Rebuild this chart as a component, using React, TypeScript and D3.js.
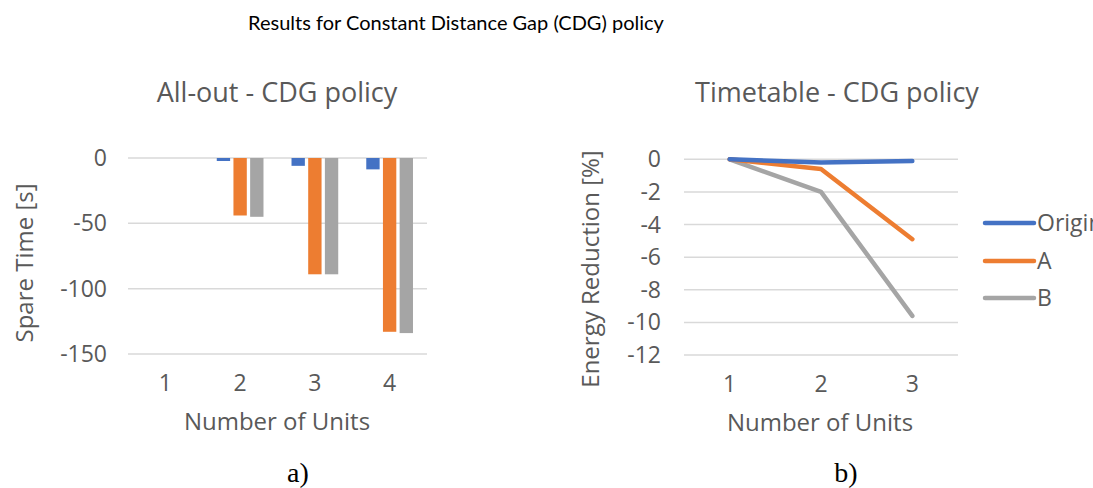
import React, { useEffect, useRef } from "react";
import * as d3 from "d3";

const W = 1093;
const H = 488;

const seriesNames = ["Original", "A", "B"];
const colors = ["#4472C4", "#ED7D31", "#A5A5A5"];

// left chart: All-out
const allOutUnits = ["1", "2", "3", "4"];
const allOutOriginal = [0, -2.3, -6, -8.7];
const allOutA = [0, -44, -89, -133];
const allOutB = [0, -45, -89, -134];
const allOutTicks = [0, -50, -100, -150];

// right chart: Timetable
const ttUnits = ["1", "2", "3"];
const ttOriginal = [0, -0.2, -0.1];
const ttA = [0, -0.6, -4.9];
const ttB = [0, -2.0, -9.6];
const ttTicks = [0, -2, -4, -6, -8, -10, -12];

const TXT = "#595959";
const GRID = "#D9D9D9";
const FONT = "'Open Sans', sans-serif";
const TICK_SIZE = 23;
const AXIS_SIZE = 24;
const TITLE_SIZE = 27;

export default function App() {
  const ref = useRef<SVGSVGElement>(null);

  useEffect(() => {
    const svg = d3.select(ref.current);
    svg.selectAll("*").remove();

    // overall title
    svg
      .append("text")
      .attr("x", 456)
      .attr("y", 30)
      .attr("text-anchor", "middle")
      .attr("font-family", "Lato, sans-serif")
      .attr("font-size", 20)
      .attr("fill", "#000")
      .text("Results for Constant Distance Gap (CDG) policy");

    // ---------- left: bar chart ----------
    const L = svg.append("g");
    const x0 = d3.scaleBand().domain(allOutUnits).range([128, 427]);
    const groupW = x0.bandwidth() * 0.625;
    const x1 = d3
      .scaleBand()
      .domain(seriesNames)
      .range([0, groupW])
      .paddingInner(0.2);
    const yL = d3.scaleLinear().domain([-150, 0]).range([354, 158]);

    L.selectAll("line.grid")
      .data(allOutTicks)
      .enter()
      .append("line")
      .attr("x1", 128)
      .attr("x2", 427)
      .attr("y1", (d) => yL(d))
      .attr("y2", (d) => yL(d))
      .attr("stroke", GRID)
      .attr("stroke-width", 1.5);

    L.selectAll("text.ytick")
      .data(allOutTicks)
      .enter()
      .append("text")
      .attr("x", 107)
      .attr("y", (d) => yL(d))
      .attr("dy", "0.35em")
      .attr("text-anchor", "end")
      .attr("font-family", FONT)
      .attr("font-size", TICK_SIZE)
      .attr("fill", TXT)
      .text((d) => d);

    const barSeries = [allOutOriginal, allOutA, allOutB];
    barSeries.forEach((vals, si) => {
      L.selectAll(`rect.s${si}`)
        .data(vals)
        .enter()
        .append("rect")
        .attr("x", (d, i) => x0(allOutUnits[i])! + (x0.bandwidth() - groupW) / 2 + x1(seriesNames[si])!)
        .attr("y", (d) => yL(Math.max(0, d)))
        .attr("width", x1.bandwidth())
        .attr("height", (d) => Math.abs(yL(d) - yL(0)))
        .attr("fill", colors[si]);
    });

    L.selectAll("text.xtick")
      .data(allOutUnits)
      .enter()
      .append("text")
      .attr("x", (d) => x0(d)! + x0.bandwidth() / 2)
      .attr("y", 391)
      .attr("text-anchor", "middle")
      .attr("font-family", FONT)
      .attr("font-size", TICK_SIZE)
      .attr("fill", TXT)
      .text((d) => d);

    L.append("text")
      .attr("x", 277)
      .attr("y", 102)
      .attr("text-anchor", "middle")
      .attr("font-family", FONT)
      .attr("font-size", TITLE_SIZE)
      .attr("fill", TXT)
      .text("All-out - CDG policy");

    L.append("text")
      .attr("x", 277)
      .attr("y", 430)
      .attr("text-anchor", "middle")
      .attr("font-family", FONT)
      .attr("font-size", AXIS_SIZE)
      .attr("fill", TXT)
      .text("Number of Units");

    L.append("text")
      .attr("transform", "translate(25,263) rotate(-90)")
      .attr("dy", "0.35em")
      .attr("text-anchor", "middle")
      .attr("font-family", FONT)
      .attr("font-size", AXIS_SIZE)
      .attr("fill", TXT)
      .text("Spare Time [s]");

    // ---------- right: line chart ----------
    const R = svg.append("g");
    const xR = d3.scaleBand().domain(ttUnits).range([684, 958]);
    const yR = d3.scaleLinear().domain([-12, 0]).range([355, 159.3]);

    R.selectAll("line.grid")
      .data(ttTicks)
      .enter()
      .append("line")
      .attr("x1", 684)
      .attr("x2", 958)
      .attr("y1", (d) => yR(d))
      .attr("y2", (d) => yR(d))
      .attr("stroke", GRID)
      .attr("stroke-width", 1.5);

    R.selectAll("text.ytick")
      .data(ttTicks)
      .enter()
      .append("text")
      .attr("x", 661)
      .attr("y", (d) => yR(d))
      .attr("dy", "0.35em")
      .attr("text-anchor", "end")
      .attr("font-family", FONT)
      .attr("font-size", TICK_SIZE)
      .attr("fill", TXT)
      .text((d) => d);

    const line = d3
      .line<number>()
      .x((d, i) => xR(ttUnits[i])! + xR.bandwidth() / 2)
      .y((d) => yR(d));

    const lineSeries = [ttOriginal, ttA, ttB];
    // draw B first so A and Original sit on top
    [2, 1, 0].forEach((si) => {
      R.append("path")
        .attr("d", line(lineSeries[si]))
        .attr("fill", "none")
        .attr("stroke", colors[si])
        .attr("stroke-width", 4.5)
        .attr("stroke-linecap", "round")
        .attr("stroke-linejoin", "round");
    });

    R.selectAll("text.xtick")
      .data(ttUnits)
      .enter()
      .append("text")
      .attr("x", (d) => xR(d)! + xR.bandwidth() / 2)
      .attr("y", 392)
      .attr("text-anchor", "middle")
      .attr("font-family", FONT)
      .attr("font-size", TICK_SIZE)
      .attr("fill", TXT)
      .text((d) => d);

    R.append("text")
      .attr("x", 837)
      .attr("y", 102)
      .attr("text-anchor", "middle")
      .attr("font-family", FONT)
      .attr("font-size", TITLE_SIZE)
      .attr("fill", TXT)
      .text("Timetable - CDG policy");

    R.append("text")
      .attr("x", 820)
      .attr("y", 431)
      .attr("text-anchor", "middle")
      .attr("font-family", FONT)
      .attr("font-size", AXIS_SIZE)
      .attr("fill", TXT)
      .text("Number of Units");

    R.append("text")
      .attr("transform", "translate(591,269) rotate(-90)")
      .attr("dy", "0.35em")
      .attr("text-anchor", "middle")
      .attr("font-family", FONT)
      .attr("font-size", AXIS_SIZE)
      .attr("fill", TXT)
      .text("Energy Reduction [%]");

    // legend (the source picture cuts it off at the right edge)
    const legY = [223, 261, 298];
    seriesNames.forEach((name, i) => {
      R.append("line")
        .attr("x1", 985)
        .attr("x2", 1034)
        .attr("y1", legY[i])
        .attr("y2", legY[i])
        .attr("stroke", colors[i])
        .attr("stroke-width", 4.5)
        .attr("stroke-linecap", "round");
      R.append("text")
        .attr("x", 1037)
        .attr("y", legY[i])
        .attr("dy", "0.35em")
        .attr("font-family", FONT)
        .attr("font-size", TICK_SIZE)
        .attr("fill", TXT)
        .text(name);
    });

    // sub-figure labels
    svg
      .append("text")
      .attr("x", 298)
      .attr("y", 482)
      .attr("text-anchor", "middle")
      .attr("font-family", "'Liberation Serif', serif")
      .attr("font-size", 28)
      .attr("fill", "#000")
      .text("a)");
    svg
      .append("text")
      .attr("x", 846)
      .attr("y", 482)
      .attr("text-anchor", "middle")
      .attr("font-family", "'Liberation Serif', serif")
      .attr("font-size", 28)
      .attr("fill", "#000")
      .text("b)");
  }, []);

  return (
    <svg
      ref={ref}
      width={W}
      height={H}
      style={{ position: "absolute", left: 0, top: 0, background: "#fff", overflow: "hidden" }}
    />
  );
}
